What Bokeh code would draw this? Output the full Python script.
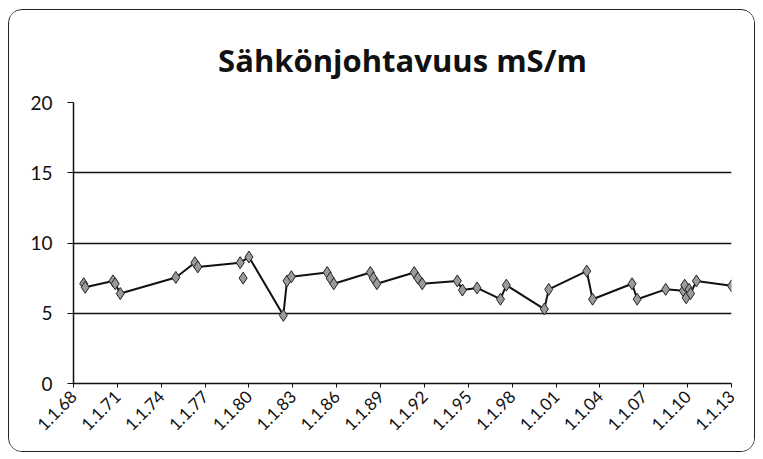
import math
from bokeh.plotting import figure
from bokeh.models import FixedTicker, Range1d, LinearAxis
from bokeh.embed import file_html
from bokeh.resources import INLINE

title_text = "Sähkönjohtavuus mS/m"

# decimal year of each sample and conductivity (mS/m)
years = [1968.7, 1968.8, 1970.7, 1970.85, 1971.2, 1975.0, 1976.3, 1976.5,
         1979.4, 1980.0, 1982.35, 1982.6, 1982.9, 1985.35, 1985.55, 1985.8,
         1988.3, 1988.5, 1988.75, 1991.3, 1991.55, 1991.85, 1994.25, 1994.6,
         1995.6, 1997.2, 1997.6, 2000.2, 2000.5, 2003.1, 2003.5, 2006.2,
         2006.55, 2008.5, 2009.7, 2009.8, 2009.9, 2010.1, 2010.2, 2010.6, 2013.0]
values = [7.1, 6.85, 7.3, 7.1, 6.4, 7.55, 8.6, 8.3,
          8.6, 9.0, 4.85, 7.3, 7.6, 7.9, 7.5, 7.1,
          7.9, 7.5, 7.1, 7.9, 7.5, 7.1, 7.3, 6.65,
          6.8, 6.0, 7.0, 5.3, 6.7, 8.0, 6.0, 7.1,
          6.0, 6.7, 6.6, 7.0, 6.1, 6.7, 6.4, 7.3, 6.95]

# sample shown without connecting line
extra_years = [1979.6]
extra_values = [7.5]

tick_years = [1968, 1971, 1974, 1977, 1980, 1983, 1986, 1989, 1992, 1995,
              1998, 2001, 2004, 2007, 2010, 2013]
tick_labels = ["1.1.68", "1.1.71", "1.1.74", "1.1.77", "1.1.80", "1.1.83",
               "1.1.86", "1.1.89", "1.1.92", "1.1.95", "1.1.98", "1.1.01",
               "1.1.04", "1.1.07", "1.1.10", "1.1.13"]
y_ticks = [0, 5, 10, 15, 20]

p = figure(width=747, height=443, output_backend="svg", toolbar_location=None,
           x_range=Range1d(1968, 2013), y_range=Range1d(0, 20), title=title_text)
p.styles = {"border": "1px solid #222", "border-radius": "14px", "overflow": "hidden",
            "margin-left": "8px", "margin-top": "9px"}
p.min_border_left = 64
p.min_border_right = 25
p.min_border_top = 92
p.min_border_bottom = 70
p.outline_line_color = None
p.background_fill_color = "white"
p.border_fill_color = "white"

p.title.text_font = "Open Sans"
p.title.text_font_style = "bold"
p.title.text_font_size = "31px"
p.title.align = "center"
p.title.vertical_align = "top"
p.title.offset = -20
p.title.standoff = 39
p.title.text_color = "#111"

# empty, invisible axis above the plot area: only keeps a gap under the title
spacer = LinearAxis(ticker=FixedTicker(ticks=[]), axis_line_color=None,
                    major_tick_line_color=None, minor_tick_line_color=None,
                    major_tick_in=0, major_tick_out=12, minor_tick_out=0,
                    major_label_standoff=0)
p.add_layout(spacer, "above")

p.xaxis.ticker = FixedTicker(ticks=tick_years)
p.below[0].major_label_overrides = {t: l for t, l in zip(tick_years, tick_labels)}
p.below[0].major_label_orientation = math.pi / 4
p.below[0].major_label_text_font = "Lato"
p.below[0].major_label_text_font_size = "17px"
p.below[0].major_label_text_color = "#111"
p.below[0].major_label_standoff = 6
p.below[0].minor_tick_line_color = None
p.below[0].major_tick_in = 0
p.below[0].major_tick_out = 4
p.below[0].axis_line_width = 1.5
p.below[0].axis_line_color = "#111"
p.below[0].major_tick_line_color = "#111"
spacer.ticker = FixedTicker(ticks=[])

p.yaxis.ticker = FixedTicker(ticks=y_ticks)
p.yaxis.major_label_text_font = "Lato"
p.yaxis.major_label_text_font_size = "19px"
p.yaxis.major_label_text_color = "#111"
p.yaxis.major_label_standoff = 15
p.yaxis.minor_tick_line_color = None
p.yaxis.major_tick_in = 0
p.yaxis.major_tick_out = 6
p.yaxis.axis_line_width = 1.5
p.yaxis.axis_line_color = "#111"
p.yaxis.major_tick_line_color = "#111"

p.xgrid.grid_line_color = None
p.ygrid.ticker = FixedTicker(ticks=y_ticks)
p.ygrid.grid_line_color = "#111"
p.ygrid.grid_line_width = 1.5

p.line(years, values, line_color="#111", line_width=2)
p.scatter(years, values, marker="diamond", size=12, fill_color="#9a9a9a",
          line_color="#222", line_width=1)
p.scatter(extra_years, extra_values, marker="diamond", size=12, fill_color="#9a9a9a",
          line_color="#222", line_width=1)

open("out.html", "w").write(file_html(p, INLINE))
